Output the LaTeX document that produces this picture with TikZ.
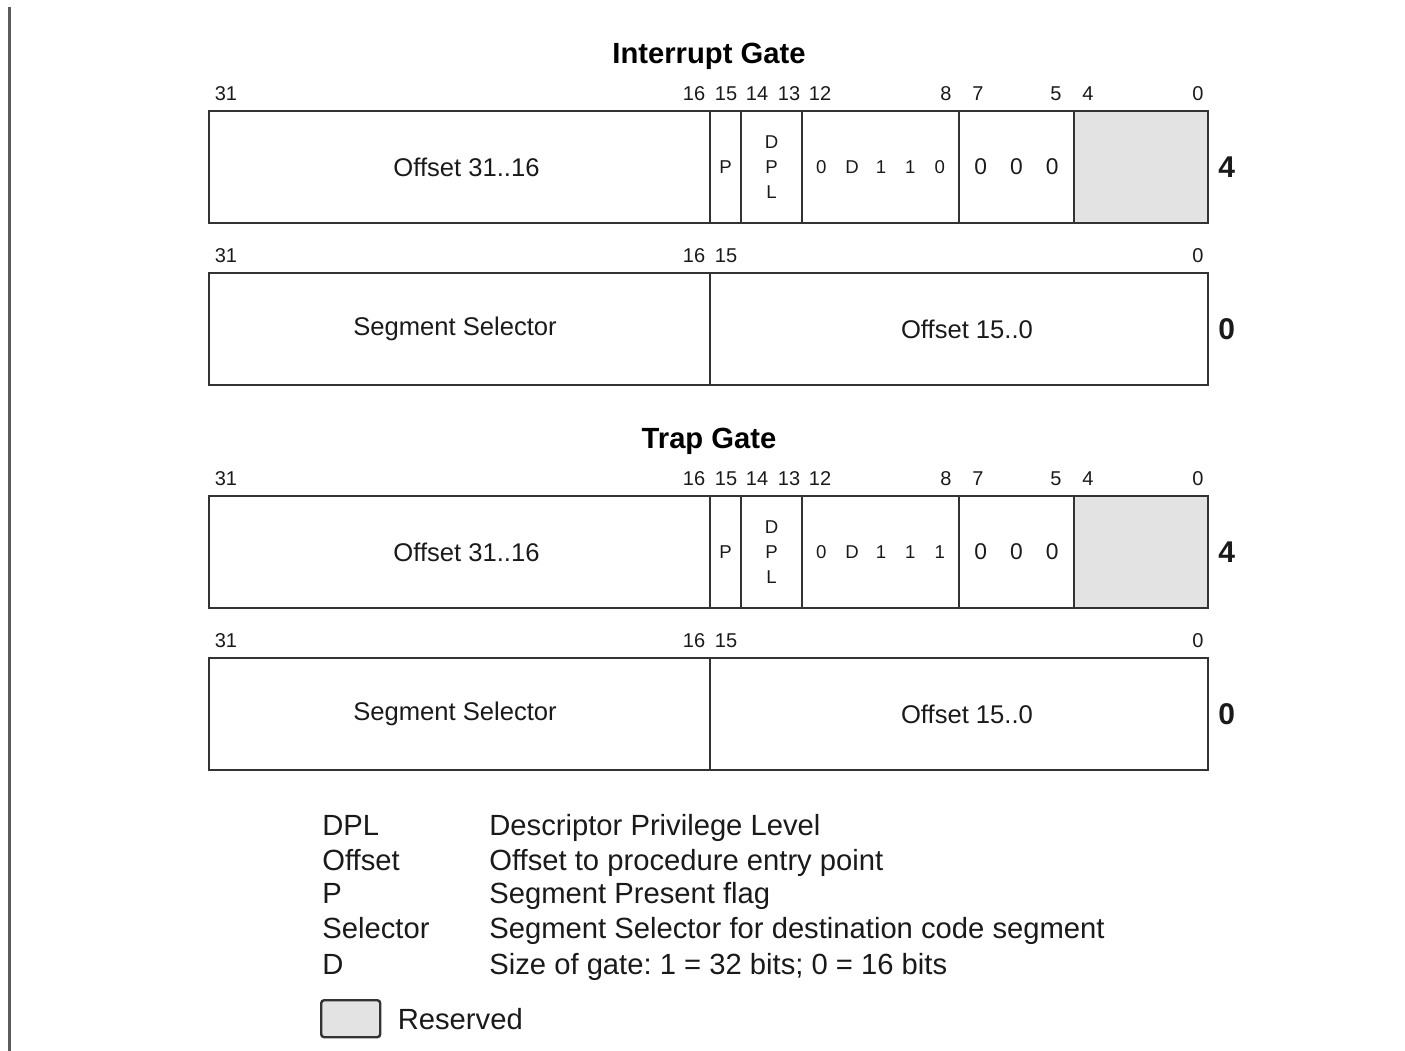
\documentclass[tikz,border=0pt]{standalone}
\usepackage{fontspec}
\setmainfont{Liberation Sans}
\usetikzlibrary{positioning}
\usepackage{xcolor}
\frenchspacing

\definecolor{rule}{HTML}{333333}
\definecolor{ink}{HTML}{1A1A1A}
\definecolor{resv}{HTML}{E3E3E3}

\begin{document}
\begin{tikzpicture}[
    x=0.5pt, y=-0.5pt,
    field/.style={rectangle, draw=rule, line width=1.2pt, minimum height=56pt, inner sep=0pt, outer sep=0pt, align=center, text=ink, font=\fontsize{12.8}{15}\selectfont},
    small/.style={font=\fontsize{9.3}{12.5}\selectfont},
    big/.style={font=\fontsize{11.4}{13}\selectfont},
    bitno/.style={inner sep=0pt, text=ink, font=\fontsize{10}{11}\selectfont},
    sideno/.style={inner sep=0pt, text=ink, font=\fontsize{15}{17}\selectfont\bfseries},
    gatetitle/.style={inner sep=0pt, text=black, font=\fontsize{14.6}{17}\selectfont\bfseries},
    legkey/.style={anchor=base west, inner sep=0pt, text=ink, font=\fontsize{14.6}{17}\selectfont},
    resbox/.style={rectangle, draw=rule, line width=1.2pt, fill=resv, rounded corners=1.5pt, minimum width=29.5pt, minimum height=18.5pt}
]
    \useasboundingbox (0,0) rectangle (1405,1051);

    % page margin rule
    \draw[rule!80, line width=1.5pt] (9,7) -- (9,1051);

    % the two gate descriptors, each two doublewords
    \foreach \g/\dy/\ttl/\tb in {int/0/Interrupt Gate/0, trap/385/Trap Gate/1} {
        \node[gatetitle] (\g-title) at (709,56+\dy) {\ttl};

        % upper doubleword
        \node[field, anchor=north west, minimum width=250.5pt] (\g-hi) at (209,111+\dy) {\hspace*{7pt}Offset 31..16};
        \node[field, small, right=0pt of \g-hi, minimum width=15.5pt] (\g-p) {P};
        \node[field, small, right=0pt of \g-p, minimum width=30.5pt] (\g-dpl) {D\\P\\L};
        \node[field, small, right=0pt of \g-dpl, minimum width=78.5pt] (\g-type) {0\hspace{9.5pt}D\hspace{8.5pt}1\hspace{9.5pt}1\hspace{9.5pt}\tb};
        \node[field, big, right=0pt of \g-type, minimum width=57.5pt] (\g-zero) {0\hspace{11.5pt}0\hspace{11.5pt}0};
        \node[field, right=0pt of \g-zero, minimum width=67pt, fill=resv] (\g-res) {};
        \node[sideno, right=5pt of \g-res] (\g-w1) {4};

        \foreach \n/\bx in {31/226, 16/694, 15/726, 14/757, 13/789, 12/820, 8/946, 7/978, 5/1056, 4/1088, 0/1198}
            \node[bitno] (\g-b\n) at (\bx,94+\dy) {\n};

        % lower doubleword
        \node[field, anchor=north west, minimum width=250.5pt] (\g-sel) at (209,273+\dy) {Segment Selector\hspace*{4.5pt}};
        \node[field, right=0pt of \g-sel, minimum width=249pt] (\g-lo) {\hspace*{8pt}Offset 15..0};
        \node[sideno, right=5pt of \g-lo] (\g-w0) {0};

        \foreach \n/\bx in {31/226, 16/694, 15/726, 0/1198}
            \node[bitno] (\g-c\n) at (\bx,256+\dy) {\n};
    }

    % legend
    \node[legkey] (k-dpl) at (322,835) {DPL};
    \node[legkey] (d-dpl) at (489,835) {Descriptor Privilege Level};
    \node[legkey] (k-off) at (322,870) {Offset};
    \node[legkey] (d-off) at (489,870) {Offset to procedure entry point};
    \node[legkey] (k-p) at (322,903) {P};
    \node[legkey] (d-p) at (489,903) {Segment Present flag};
    \node[legkey] (k-sel) at (322,938) {Selector};
    \node[legkey] (d-sel) at (489,938) {Segment Selector for destination code segment};
    \node[legkey] (k-d) at (322,974) {D};
    \node[legkey] (d-d) at (489,974) {Size of gate: 1 = 32 bits; 0 = 16 bits};

    \node[resbox, anchor=north west] (k-res) at (320,999) {};
    \node[legkey, right=8pt of k-res] (d-res) {Reserved};
\end{tikzpicture}
\end{document}
